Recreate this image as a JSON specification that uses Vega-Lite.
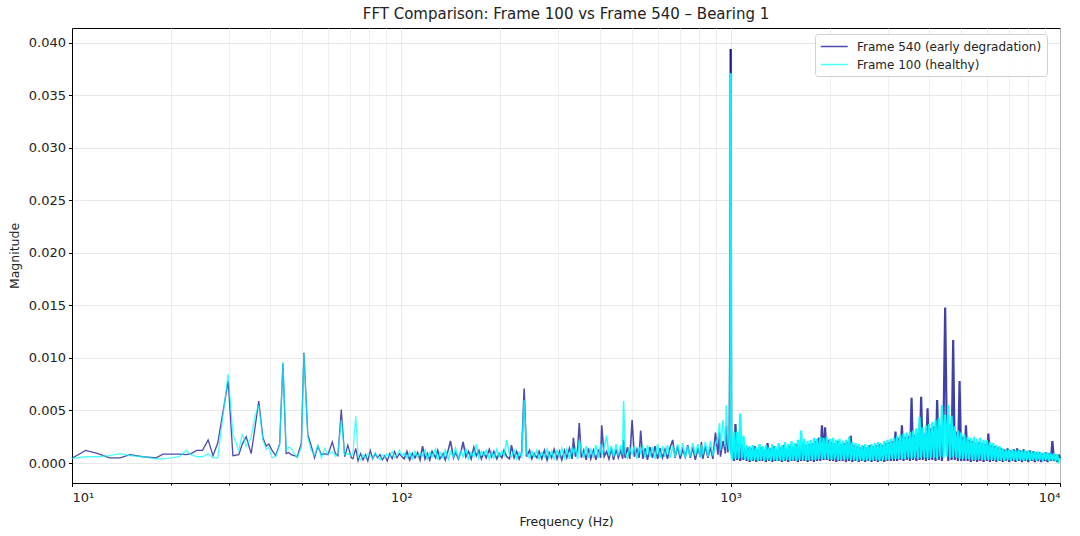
{
  "$schema": "https://vega.github.io/schema/vega-lite/v6.json",
  "width": 988,
  "height": 455,
  "autosize": {"type": "none"},
  "padding": {"left": 72, "top": 28, "right": 20, "bottom": 53},
  "background": "white",
  "config": {
    "font": "DejaVu Sans",
    "view": {"stroke": "#000000", "strokeWidth": 1},
    "axis": {
      "labelFont": "DejaVu Sans", "titleFont": "DejaVu Sans",
      "labelFontSize": 13, "titleFontSize": 12.5,
      "labelColor": "#222222", "titleColor": "#222222", "titleFontWeight": "normal",
      "domainColor": "#000000", "tickColor": "#000000",
      "gridColor": "#e2e2e2", "gridWidth": 0.8
    },
    "legend": {"labelFont": "DejaVu Sans", "labelFontSize": 12, "labelColor": "#222222", "labelLimit": 0}
  },
  "title": {
    "text": "FFT Comparison: Frame 100 vs Frame 540 \u2013 Bearing 1",
    "fontSize": 15, "fontWeight": "normal", "color": "#222222",
    "anchor": "middle", "offset": 6
  },
  "data": {"values": [
    {"f":10,"a":0.00045,"b":0.00045},{"f":11,"a":0.0012,"b":0.0006},{"f":12,"a":0.0009,"b":0.0006},{"f":13,"a":0.0005,"b":0.0007},
    {"f":14,"a":0.0005,"b":0.0009},{"f":15,"a":0.0008,"b":0.0007},{"f":16.4,"a":0.0006,"b":0.0006},{"f":18,"a":0.0005,"b":0.0004},
    {"f":18.9,"a":0.00085,"b":0.0004},{"f":20,"a":0.00085,"b":0.0005},{"f":21.2,"a":0.00085,"b":0.0006},{"f":22.2,"a":0.0008,"b":0.0012},
    {"f":23,"a":0.0009,"b":0.0008},{"f":23.9,"a":0.0012,"b":0.0006},{"f":24.9,"a":0.0012,"b":0.0006},{"f":25.9,"a":0.0022,"b":0.0009},
    {"f":26.8,"a":0.0007,"b":0.0005},{"f":27.7,"a":0.0019,"b":0.0005},{"f":29.8,"a":0.0078,"b":0.0085},{"f":30.8,"a":0.0007,"b":0.0027},
    {"f":32.1,"a":0.0008,"b":0.0012},{"f":32.9,"a":0.0018,"b":0.0028},{"f":33.8,"a":0.0025,"b":0.0016},{"f":35,"a":0.0009,"b":0.0025},
    {"f":36,"a":0.0035,"b":0.0045},{"f":36.9,"a":0.0059,"b":0.0055},{"f":38,"a":0.0024,"b":0.0022},{"f":38.9,"a":0.0016,"b":0.0013},
    {"f":39.6,"a":0.0018,"b":0.0015},{"f":40.5,"a":0.0012,"b":0.0005},{"f":41.5,"a":0.0007,"b":0.0006},{"f":42.7,"a":0.0018,"b":0.0017},
    {"f":43.7,"a":0.0095,"b":0.0096},{"f":44.7,"a":0.0009,"b":0.0012},{"f":45.5,"a":0.001,"b":0.0015},{"f":46.3,"a":0.0008,"b":0.0014},
    {"f":47.3,"a":0.0007,"b":0.0009},{"f":48.3,"a":0.0006,"b":0.0005},{"f":49.7,"a":0.0019,"b":0.0015},{"f":50.6,"a":0.0105,"b":0.0104},
    {"f":52,"a":0.0027,"b":0.0024},{"f":53.3,"a":0.0016,"b":0.0012},{"f":54.5,"a":0.0005,"b":0.0007},{"f":55.8,"a":0.0016,"b":0.0017},
    {"f":57.2,"a":0.0008,"b":0.0005},{"f":58.5,"a":0.0009,"b":0.0014},{"f":59.9,"a":0.0008,"b":0.0008},{"f":61.7,"a":0.002,"b":0.0011},
    {"f":63.1,"a":0.0009,"b":0.0006},{"f":64.2,"a":0.0007,"b":0.0009},{"f":65.7,"a":0.0051,"b":0.0041},{"f":67.3,"a":0.0006,"b":0.0008},
    {"f":68.8,"a":0.0017,"b":0.0009},{"f":70.5,"a":0.0005,"b":0.0007},{"f":71.3,"a":0.0004,"b":0.0009},{"f":72.7,"a":0.0014,"b":0.0045},
    {"f":73.9,"a":0.0002,"b":0.0006},{"f":75.2,"a":0.0009,"b":0.0003},{"f":76.5,"a":0.0003,"b":0.0008},{"f":77.8,"a":0.0008,"b":0.0005},
    {"f":79.1,"a":0.0002,"b":0.0009},{"f":80.5,"a":0.0012,"b":0.0007},{"f":81.9,"a":0.0004,"b":0.0004},{"f":83.3,"a":0.0009,"b":0.001},
    {"f":84.7,"a":0.0005,"b":0.0006},{"f":86.1,"a":0.0008,"b":0.0003},{"f":87.6,"a":0.0003,"b":0.0008},{"f":89.1,"a":0.0007,"b":0.0005},
    {"f":90.6,"a":0.0002,"b":0.0009},{"f":92.2,"a":0.0009,"b":0.0006},{"f":93.8,"a":0.0004,"b":0.0011},{"f":95.4,"a":0.0011,"b":0.0005},
    {"f":97,"a":0.0005,"b":0.0008},{"f":98.7,"a":0.0009,"b":0.0012},{"f":100.4,"a":0.0006,"b":0.0007},
    {"f":102,"a":0.0004,"b":0.0009},{"f":104,"a":0.0011,"b":0.0005},{"f":106,"a":0.0003,"b":0.001},{"f":108,"a":0.0009,"b":0.0004},
    {"f":110,"a":0.0005,"b":0.0011},{"f":112,"a":0.001,"b":0.0006},{"f":114,"a":0.0003,"b":0.0009},{"f":116,"a":0.0016,"b":0.0007},
    {"f":118,"a":0.0004,"b":0.0012},{"f":120,"a":0.0009,"b":0.0004},{"f":122,"a":0.0003,"b":0.001},{"f":124,"a":0.0011,"b":0.0006},
    {"f":127,"a":0.0005,"b":0.0013},{"f":129,"a":0.0012,"b":0.0003},{"f":131,"a":0.0004,"b":0.001},{"f":134,"a":0.0009,"b":0.0005},
    {"f":136,"a":0.0003,"b":0.0012},{"f":139,"a":0.0013,"b":0.0004},{"f":141,"a":0.0021,"b":0.0011},{"f":144,"a":0.0005,"b":0.0006},
    {"f":146,"a":0.001,"b":0.0014},{"f":149,"a":0.0004,"b":0.0005},{"f":152,"a":0.0012,"b":0.0011},{"f":154,"a":0.002,"b":0.0006},
    {"f":157,"a":0.0006,"b":0.0013},{"f":160,"a":0.0011,"b":0.0004},{"f":163,"a":0.0004,"b":0.001},{"f":166,"a":0.0015,"b":0.0006},
    {"f":169,"a":0.0007,"b":0.0018},{"f":172,"a":0.0012,"b":0.0005},{"f":175,"a":0.0004,"b":0.0011},{"f":178,"a":0.001,"b":0.0007},
    {"f":181,"a":0.0005,"b":0.0012},{"f":185,"a":0.0013,"b":0.0004},{"f":188,"a":0.0006,"b":0.001},{"f":191,"a":0.0011,"b":0.0005},
    {"f":195,"a":0.0004,"b":0.0013},{"f":198,"a":0.0009,"b":0.0006},{"f":202,"a":0.0005,"b":0.0011},{"f":205,"a":0.0012,"b":0.0007},
    {"f":209,"a":0.0006,"b":0.0022},{"f":213,"a":0.0004,"b":0.0008},{"f":216,"a":0.0017,"b":0.0006},{"f":220,"a":0.0005,"b":0.0012},
    {"f":224,"a":0.0011,"b":0.0004},{"f":228,"a":0.0004,"b":0.001},{"f":232,"a":0.001,"b":0.0006},{"f":236,"a":0.0071,"b":0.006},
    {"f":240,"a":0.0006,"b":0.0009},{"f":245,"a":0.0012,"b":0.0005},{"f":249,"a":0.0004,"b":0.0011},{"f":253,"a":0.0009,"b":0.0006},
    {"f":258,"a":0.0005,"b":0.0012},{"f":262,"a":0.0011,"b":0.0004},{"f":267,"a":0.0004,"b":0.001},{"f":272,"a":0.0012,"b":0.0006},
    {"f":277,"a":0.0003,"b":0.0013},{"f":281,"a":0.001,"b":0.0005},{"f":286,"a":0.0005,"b":0.0011},{"f":291,"a":0.0013,"b":0.0004},
    {"f":297,"a":0.0004,"b":0.0012},{"f":302,"a":0.0011,"b":0.0006},{"f":307,"a":0.0003,"b":0.0014},{"f":313,"a":0.0012,"b":0.0005},
    {"f":318,"a":0.0005,"b":0.0013},{"f":324,"a":0.0014,"b":0.0004},{"f":330,"a":0.0004,"b":0.0015},{"f":333,"a":0.0024,"b":0.0009},
    {"f":338,"a":0.0006,"b":0.0014},{"f":343,"a":0.0013,"b":0.0004},{"f":347,"a":0.0038,"b":0.0022},{"f":352,"a":0.0005,"b":0.0012},
    {"f":358,"a":0.0012,"b":0.0006},{"f":364,"a":0.0003,"b":0.0016},{"f":370,"a":0.0014,"b":0.0005},{"f":376,"a":0.0004,"b":0.0013},
    {"f":383,"a":0.0012,"b":0.0006},{"f":390,"a":0.0003,"b":0.0017},{"f":397,"a":0.0013,"b":0.0005},{"f":403,"a":0.0005,"b":0.0018},
    {"f":406,"a":0.0036,"b":0.0008},{"f":413,"a":0.0006,"b":0.0015},{"f":420,"a":0.0011,"b":0.0026},{"f":427,"a":0.0004,"b":0.0007},
    {"f":434,"a":0.0014,"b":0.0016},{"f":441,"a":0.0003,"b":0.0006},{"f":449,"a":0.0013,"b":0.0018},{"f":456,"a":0.0005,"b":0.0007},
    {"f":464,"a":0.0012,"b":0.0017},{"f":470,"a":0.0004,"b":0.0008},{"f":473,"a":0.0022,"b":0.0059},{"f":478,"a":0.0005,"b":0.001},
    {"f":486,"a":0.0015,"b":0.0005},{"f":494,"a":0.0004,"b":0.0014},{"f":502,"a":0.0041,"b":0.0009},{"f":510,"a":0.0006,"b":0.0016},
    {"f":519,"a":0.0013,"b":0.0004},{"f":527,"a":0.0005,"b":0.0015},{"f":533,"a":0.0031,"b":0.001},{"f":541,"a":0.0004,"b":0.0016},
    {"f":550,"a":0.0014,"b":0.0005},{"f":559,"a":0.0003,"b":0.0017},{"f":569,"a":0.0015,"b":0.0006},{"f":579,"a":0.0005,"b":0.0015},
    {"f":589,"a":0.0016,"b":0.0004},{"f":600,"a":0.0004,"b":0.0018},{"f":610,"a":0.0014,"b":0.0005},{"f":621,"a":0.0005,"b":0.0016},
    {"f":632,"a":0.0013,"b":0.0006},{"f":643,"a":0.0004,"b":0.0017},{"f":655,"a":0.0015,"b":0.0005},{"f":667,"a":0.0022,"b":0.0016},
    {"f":678,"a":0.0005,"b":0.0006},{"f":690,"a":0.0016,"b":0.0018},{"f":703,"a":0.0004,"b":0.0007},{"f":715,"a":0.0013,"b":0.0019},
    {"f":728,"a":0.0006,"b":0.0005},{"f":741,"a":0.0017,"b":0.0016},{"f":754,"a":0.0005,"b":0.0006},{"f":767,"a":0.0015,"b":0.0019},
    {"f":781,"a":0.0003,"b":0.0007},{"f":795,"a":0.0014,"b":0.0018},{"f":809,"a":0.0006,"b":0.0005},{"f":815,"a":0.002,"b":0.0017},
    {"f":823,"a":0.0004,"b":0.0008},{"f":838,"a":0.0016,"b":0.002},{"f":853,"a":0.0005,"b":0.0006},{"f":868,"a":0.0015,"b":0.0021},
    {"f":883,"a":0.0004,"b":0.0007},{"f":899,"a":0.0029,"b":0.0018},{"f":915,"a":0.0008,"b":0.0024},{"f":925,"a":0.0029,"b":0.0038},
    {"f":931,"a":0.0006,"b":0.0012},{"f":948,"a":0.0021,"b":0.0041},{"f":964,"a":0.0009,"b":0.0015},{"f":970,"a":0.0035,"b":0.0055},
    {"f":981,"a":0.001,"b":0.002},{"f":990,"a":0.0026,"b":0.0012},{"f":995,"a":0.0131,"b":0.0036},{"f":1000,"a":0.0394,"b":0.0371},
    {"f":1004,"a":0.001,"b":0.0009},
    {"f":1011,"a":0.0012,"b":0.0003},{"f":1023,"a":0.0002,"b":0.003},{"f":1034,"a":0.0037,"b":0.0004},{"f":1046,"a":0.0003,"b":0.003},
    {"f":1058,"a":0.0019,"b":0.0004},{"f":1069,"a":0.0002,"b":0.0047},{"f":1081,"a":0.0018,"b":0.0005},{"f":1094,"a":0.0003,"b":0.0026},
    {"f":1106,"a":0.0014,"b":0.0003},
    {"f":1118,"a":0.0002,"b":0.0017},{"f":1131,"a":0.0015,"b":0.0003},{"f":1143,"a":0.0001,"b":0.0016},{"f":1156,"a":0.0014,"b":0.0002},
    {"f":1169,"a":0.0002,"b":0.0017},{"f":1182,"a":0.0016,"b":0.0003},{"f":1196,"a":0.0001,"b":0.0015},{"f":1209,"a":0.0013,"b":0.0002},
    {"f":1223,"a":0.0002,"b":0.0018},{"f":1236,"a":0.0015,"b":0.0003},
    {"f":1251,"a":0.0002,"b":0.0016},{"f":1265,"a":0.0013,"b":0.0002},{"f":1279,"a":0.0001,"b":0.0017},{"f":1294,"a":0.0019,"b":0.0003},
    {"f":1308,"a":0.0002,"b":0.0015},{"f":1323,"a":0.0014,"b":0.0002},{"f":1338,"a":0.0001,"b":0.0018},{"f":1353,"a":0.0016,"b":0.0003},
    {"f":1368,"a":0.0002,"b":0.0016},{"f":1384,"a":0.0013,"b":0.0002},
    {"f":1399,"a":0.0002,"b":0.0019},{"f":1415,"a":0.0015,"b":0.0003},{"f":1431,"a":0.0001,"b":0.0017},{"f":1447,"a":0.0017,"b":0.0002},
    {"f":1463,"a":0.0002,"b":0.002},{"f":1480,"a":0.0014,"b":0.0003},{"f":1496,"a":0.0001,"b":0.0018},{"f":1513,"a":0.0016,"b":0.0002},
    {"f":1530,"a":0.0002,"b":0.0021},{"f":1547,"a":0.0015,"b":0.0003},
    {"f":1565,"a":0.0002,"b":0.0019},{"f":1583,"a":0.0018,"b":0.0002},{"f":1600,"a":0.0001,"b":0.0022},{"f":1618,"a":0.0016,"b":0.0003},
    {"f":1637,"a":0.0002,"b":0.0031},{"f":1655,"a":0.0019,"b":0.0003},{"f":1674,"a":0.0002,"b":0.0023},{"f":1693,"a":0.0017,"b":0.0002},
    {"f":1712,"a":0.0001,"b":0.0021},{"f":1731,"a":0.0018,"b":0.0003},
    {"f":1750,"a":0.0002,"b":0.0022},{"f":1770,"a":0.0019,"b":0.0003},{"f":1790,"a":0.0001,"b":0.0024},{"f":1810,"a":0.0021,"b":0.0003},
    {"f":1830,"a":0.0002,"b":0.0023},{"f":1851,"a":0.0024,"b":0.0004},{"f":1872,"a":0.0002,"b":0.0025},{"f":1893,"a":0.0036,"b":0.0004},
    {"f":1914,"a":0.0003,"b":0.0024},{"f":1935,"a":0.0034,"b":0.0004},
    {"f":1957,"a":0.0003,"b":0.0025},{"f":1979,"a":0.0022,"b":0.0004},{"f":2001,"a":0.0002,"b":0.0023},{"f":2024,"a":0.002,"b":0.0003},
    {"f":2047,"a":0.0002,"b":0.0024},{"f":2070,"a":0.0019,"b":0.0004},{"f":2093,"a":0.0001,"b":0.0022},{"f":2116,"a":0.0021,"b":0.0003},
    {"f":2140,"a":0.0002,"b":0.0023},{"f":2164,"a":0.0018,"b":0.0003},
    {"f":2189,"a":0.0002,"b":0.0021},{"f":2214,"a":0.0019,"b":0.0003},{"f":2239,"a":0.0001,"b":0.0022},{"f":2264,"a":0.002,"b":0.0004},
    {"f":2289,"a":0.0002,"b":0.0025},{"f":2315,"a":0.0026,"b":0.0003},{"f":2341,"a":0.0001,"b":0.002},{"f":2367,"a":0.0017,"b":0.0003},
    {"f":2394,"a":0.0002,"b":0.0019},{"f":2421,"a":0.0016,"b":0.0002},
    {"f":2448,"a":0.0001,"b":0.0018},{"f":2476,"a":0.0015,"b":0.0003},{"f":2503,"a":0.0002,"b":0.0017},{"f":2532,"a":0.0016,"b":0.0002},
    {"f":2560,"a":0.0001,"b":0.0018},{"f":2589,"a":0.0015,"b":0.0003},{"f":2618,"a":0.0002,"b":0.0017},{"f":2647,"a":0.0017,"b":0.0002},
    {"f":2677,"a":0.0001,"b":0.0018},{"f":2707,"a":0.0016,"b":0.0003},
    {"f":2738,"a":0.0002,"b":0.0019},{"f":2769,"a":0.0017,"b":0.0003},{"f":2800,"a":0.0001,"b":0.002},{"f":2831,"a":0.0018,"b":0.0002},
    {"f":2863,"a":0.0002,"b":0.0019},{"f":2896,"a":0.0017,"b":0.0003},{"f":2928,"a":0.0001,"b":0.0021},{"f":2961,"a":0.0019,"b":0.0003},
    {"f":2994,"a":0.0002,"b":0.0022},{"f":3028,"a":0.002,"b":0.0003},
    {"f":3062,"a":0.0002,"b":0.0023},{"f":3096,"a":0.0021,"b":0.0004},{"f":3131,"a":0.0002,"b":0.0024},{"f":3166,"a":0.003,"b":0.0004},
    {"f":3202,"a":0.0002,"b":0.0026},{"f":3238,"a":0.0024,"b":0.0004},{"f":3275,"a":0.0003,"b":0.0027},{"f":3311,"a":0.0036,"b":0.0004},
    {"f":3349,"a":0.0002,"b":0.0028},{"f":3386,"a":0.0025,"b":0.0004},
    {"f":3425,"a":0.0003,"b":0.0029},{"f":3464,"a":0.0026,"b":0.0005},{"f":3503,"a":0.0002,"b":0.003},{"f":3542,"a":0.0062,"b":0.0004},
    {"f":3582,"a":0.0003,"b":0.0031},{"f":3622,"a":0.0027,"b":0.0005},{"f":3663,"a":0.0002,"b":0.0033},{"f":3704,"a":0.0029,"b":0.0004},
    {"f":3746,"a":0.0003,"b":0.0044},{"f":3788,"a":0.0063,"b":0.0005},
    {"f":3830,"a":0.0003,"b":0.0034},{"f":3873,"a":0.0028,"b":0.0005},{"f":3917,"a":0.0002,"b":0.0036},{"f":3961,"a":0.0052,"b":0.0004},
    {"f":4005,"a":0.0003,"b":0.0037},{"f":4050,"a":0.0033,"b":0.0005},{"f":4096,"a":0.0003,"b":0.0039},{"f":4142,"a":0.0035,"b":0.0005},
    {"f":4189,"a":0.0002,"b":0.0041},{"f":4236,"a":0.006,"b":0.0004},
    {"f":4284,"a":0.0003,"b":0.0043},{"f":4332,"a":0.0036,"b":0.0006},{"f":4381,"a":0.0002,"b":0.0055},{"f":4430,"a":0.0038,"b":0.0005},
    {"f":4480,"a":0.0148,"b":0.0046},{"f":4530,"a":0.003,"b":0.0006},{"f":4581,"a":0.0002,"b":0.0055},{"f":4633,"a":0.0037,"b":0.0005},
    {"f":4685,"a":0.0003,"b":0.0045},{"f":4738,"a":0.0117,"b":0.0006},
    {"f":4791,"a":0.0003,"b":0.0035},{"f":4845,"a":0.003,"b":0.0005},{"f":4900,"a":0.0002,"b":0.0031},{"f":4955,"a":0.0078,"b":0.0004},
    {"f":5010,"a":0.0002,"b":0.0029},{"f":5067,"a":0.0025,"b":0.0004},{"f":5124,"a":0.0002,"b":0.0027},{"f":5181,"a":0.0036,"b":0.0004},
    {"f":5240,"a":0.0002,"b":0.0025},{"f":5299,"a":0.0022,"b":0.0004},
    {"f":5358,"a":0.0001,"b":0.0024},{"f":5418,"a":0.0021,"b":0.0003},{"f":5479,"a":0.0002,"b":0.0025},{"f":5541,"a":0.0019,"b":0.0003},
    {"f":5603,"a":0.0001,"b":0.0023},{"f":5666,"a":0.002,"b":0.0004},{"f":5730,"a":0.0002,"b":0.0024},{"f":5794,"a":0.0019,"b":0.0003},
    {"f":5860,"a":0.0001,"b":0.0022},{"f":5926,"a":0.0018,"b":0.0003},
    {"f":5993,"a":0.0002,"b":0.0022},{"f":6060,"a":0.0028,"b":0.0003},{"f":6128,"a":0.0001,"b":0.002},{"f":6197,"a":0.0017,"b":0.0003},
    {"f":6267,"a":0.0002,"b":0.0019},{"f":6338,"a":0.0016,"b":0.0003},{"f":6409,"a":0.0001,"b":0.0017},{"f":6481,"a":0.0015,"b":0.0002},
    {"f":6554,"a":0.0002,"b":0.0016},{"f":6628,"a":0.0014,"b":0.0003},
    {"f":6702,"a":0.0001,"b":0.0014},{"f":6777,"a":0.0013,"b":0.0002},{"f":6853,"a":0.0002,"b":0.0013},{"f":6931,"a":0.0014,"b":0.0003},
    {"f":7009,"a":0.0001,"b":0.0013},{"f":7087,"a":0.0012,"b":0.0002},{"f":7167,"a":0.0002,"b":0.0013},{"f":7248,"a":0.0013,"b":0.0003},
    {"f":7329,"a":0.0001,"b":0.0012},{"f":7412,"a":0.0014,"b":0.0002},
    {"f":7496,"a":0.0002,"b":0.0013},{"f":7580,"a":0.0012,"b":0.0003},{"f":7666,"a":0.0001,"b":0.0012},{"f":7752,"a":0.0013,"b":0.0002},
    {"f":7839,"a":0.0002,"b":0.0012},{"f":7927,"a":0.0011,"b":0.0003},{"f":8016,"a":0.0001,"b":0.0012},{"f":8107,"a":0.0012,"b":0.0002},
    {"f":8198,"a":0.0002,"b":0.0011},{"f":8290,"a":0.0011,"b":0.0003},
    {"f":8383,"a":0.0001,"b":0.0011},{"f":8478,"a":0.001,"b":0.0002},{"f":8573,"a":0.0002,"b":0.0011},{"f":8670,"a":0.001,"b":0.0003},
    {"f":8767,"a":0.0001,"b":0.001},{"f":8866,"a":0.0009,"b":0.0002},{"f":8966,"a":0.0002,"b":0.001},{"f":9066,"a":0.001,"b":0.0003},
    {"f":9168,"a":0.0001,"b":0.001},{"f":9271,"a":0.0009,"b":0.0002},
    {"f":9376,"a":0.0002,"b":0.0009},{"f":9481,"a":0.0021,"b":0.0003},{"f":9588,"a":0.0002,"b":0.0009},{"f":9696,"a":0.0008,"b":0.0002},
    {"f":9805,"a":0.0001,"b":0.0008},{"f":9915,"a":0.0008,"b":0.0002},{"f":10000,"a":0.0004,"b":0.0005}
  ]},
  "layer": [
    {
      "transform": [{"filter": "datum.f <= 101"}],
      "mark": {"type": "line", "strokeWidth": 1.3, "opacity": 0.7},
      "encoding": {
        "x": {
          "field": "f", "type": "quantitative",
          "scale": {"type": "log", "domain": [10, 10000], "nice": false},
          "axis": {
            "orient": "bottom", "values": [10, 100, 1000, 10000],
            "labelExpr": "datum.value == 10 ? '10\u00b9' : datum.value == 100 ? '10\u00b2' : datum.value == 1000 ? '10\u00b3' : '10\u2074'",
            "title": "Frequency (Hz)", "tickSize": 3.5, "labelPadding": 5, "titlePadding": 11,
            "grid": true, "gridColor": "#e2e2e2"
          }
        },
        "y": {
          "field": "a", "type": "quantitative", "title": "Magnitude",
          "scale": {"domain": [-0.0019, 0.0414], "nice": false, "zero": false},
          "axis": {
            "values": [0, 0.005, 0.01, 0.015, 0.02, 0.025, 0.03, 0.035, 0.04],
            "format": ".3f", "tickSize": 3.5, "labelPadding": 3, "titlePadding": 7
          }
        },
        "color": {
          "datum": "Frame 540 (early degradation)", "type": "nominal",
          "scale": {
            "domain": ["Frame 540 (early degradation)", "Frame 100 (healthy)"],
            "range": ["#00008b", "#00ffff"]
          },
          "legend": {
            "title": null, "orient": "none", "legendX": 743, "legendY": 6,
            "symbolType": "M-1,0H3", "symbolSize": 182, "symbolStrokeWidth": 1.5, "symbolOpacity": 0.7,
            "labelOffset": 22, "padding": 5, "rowPadding": 4,
            "fillColor": "rgba(255,255,255,0.85)", "strokeColor": "#d0d0d0", "cornerRadius": 3
          }
        }
      }
    },
    {
      "transform": [{"filter": "datum.f >= 100 && datum.f <= 1000"}],
      "mark": {"type": "line", "strokeWidth": 1.6, "opacity": 0.7},
      "encoding": {
        "x": {
          "field": "f", "type": "quantitative",
          "axis": {
            "orient": "bottom",
            "values": [20, 30, 40, 50, 60, 70, 80, 90, 200, 300, 400, 500, 600, 700, 800, 900, 2000, 3000, 4000, 5000, 6000, 7000, 8000, 9000],
            "labels": false, "title": null, "domain": false, "tickSize": 2,
            "grid": true, "gridColor": "#ebebeb"
          }
        },
        "y": {"field": "a", "type": "quantitative", "title": "Magnitude"},
        "color": {"datum": "Frame 540 (early degradation)", "type": "nominal"}
      }
    },
    {
      "transform": [{"filter": "datum.f >= 1000"}],
      "mark": {"type": "line", "strokeWidth": 2.2, "opacity": 0.75},
      "encoding": {
        "x": {"field": "f", "type": "quantitative", "axis": null},
        "y": {"field": "a", "type": "quantitative", "title": "Magnitude"},
        "color": {"datum": "Frame 540 (early degradation)", "type": "nominal"}
      }
    },
    {
      "transform": [{"filter": "datum.f <= 101"}],
      "mark": {"type": "line", "strokeWidth": 1.3, "opacity": 0.7},
      "encoding": {
        "x": {"field": "f", "type": "quantitative", "axis": null},
        "y": {"field": "b", "type": "quantitative", "title": "Magnitude"},
        "color": {"datum": "Frame 100 (healthy)", "type": "nominal"}
      }
    },
    {
      "transform": [{"filter": "datum.f >= 100 && datum.f <= 1000"}],
      "mark": {"type": "line", "strokeWidth": 1.6, "opacity": 0.8},
      "encoding": {
        "x": {"field": "f", "type": "quantitative", "axis": null},
        "y": {"field": "b", "type": "quantitative", "title": "Magnitude"},
        "color": {"datum": "Frame 100 (healthy)", "type": "nominal"}
      }
    },
    {
      "transform": [{"filter": "datum.f >= 1000"}],
      "mark": {"type": "line", "strokeWidth": 2.2, "opacity": 0.92},
      "encoding": {
        "x": {"field": "f", "type": "quantitative", "axis": null},
        "y": {"field": "b", "type": "quantitative", "title": "Magnitude"},
        "color": {"datum": "Frame 100 (healthy)", "type": "nominal"}
      }
    }
  ],
  "resolve": {"axis": {"x": "independent"}}
}
